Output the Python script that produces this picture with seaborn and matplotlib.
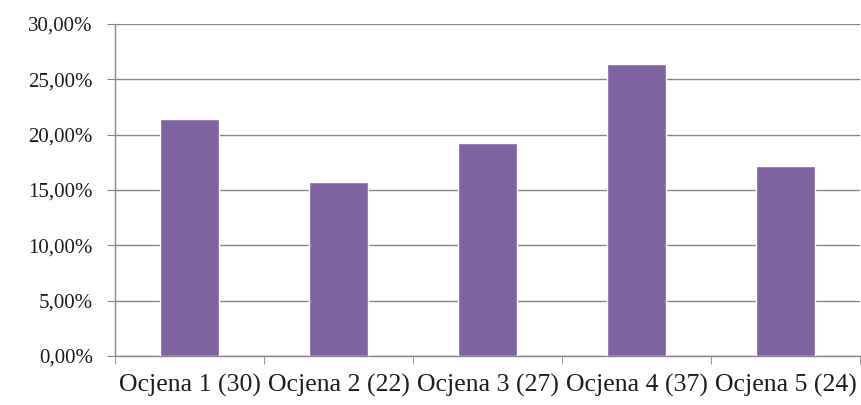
import matplotlib
matplotlib.use("Agg")
import matplotlib.pyplot as plt
import seaborn as sns
import pandas as pd
import numpy as np
from matplotlib.ticker import FuncFormatter, FixedLocator

categories = ["Ocjena 1 (30)", "Ocjena 2 (22)", "Ocjena 3 (27)", "Ocjena 4 (37)", "Ocjena 5 (24)"]
counts = [30, 22, 27, 37, 24]
shares = [c / sum(counts) for c in counts]
y_ticks = [0.0, 0.05, 0.10, 0.15, 0.20, 0.25, 0.30]

sns.set_style("white")
plt.rcParams["font.family"] = ["Liberation Serif", "DejaVu Serif"]

df = pd.DataFrame({"ocjena": categories, "udio": shares})

fig = plt.figure(figsize=(8.62, 4.05), dpi=100)
ax = fig.add_axes([0.1334, 0.121, 0.8643, 0.8197])

sns.barplot(data=df, x="ocjena", y="udio", color="#7F62A1", width=0.4,
            saturation=1, ax=ax, zorder=3)

grid_col = "#878787"
ax.set_ylim(0, 0.30)
ax.set_xlim(-0.5, len(categories) - 0.5)
ax.set_yticks(y_ticks)
ax.yaxis.set_major_formatter(FuncFormatter(lambda v, p: f"{v*100:.2f}%".replace(".", ",")))
ax.grid(axis="y", color=grid_col, linewidth=1, zorder=0)
ax.set_axisbelow(True)

for s in ["top", "right"]:
    ax.spines[s].set_visible(False)
for s in ["left", "bottom"]:
    ax.spines[s].set_color(grid_col)
    ax.spines[s].set_linewidth(1)

ax.tick_params(axis="y", which="major", direction="out", length=6, color=grid_col,
               labelsize=15, labelcolor="#1c1c1c", pad=10, left=True)
ax.tick_params(axis="x", which="major", length=0, labelsize=18.5, labelcolor="#1c1c1c", pad=13)
ax.xaxis.set_minor_locator(FixedLocator(np.arange(-0.5, len(categories), 1.0)))
ax.tick_params(axis="x", which="minor", direction="out", length=6, color=grid_col, bottom=True)

ax.set_xlabel("")
ax.set_ylabel("")

fig.savefig("out.png", dpi=100)
